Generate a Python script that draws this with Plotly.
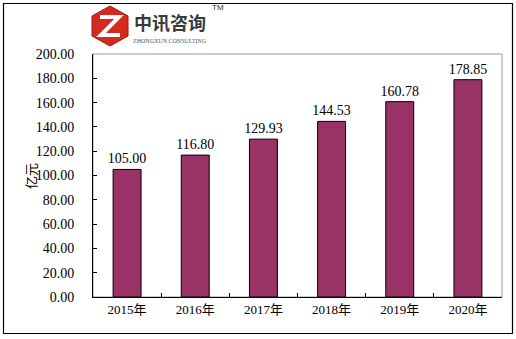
import plotly.graph_objects as go

years = ["2015年", "2016年", "2017年", "2018年", "2019年", "2020年"]
values = [105.00, 116.80, 129.93, 144.53, 160.78, 178.85]
y_ticks = [0, 20, 40, 60, 80, 100, 120, 140, 160, 180, 200]
y_title = "亿元"

W, H = 516, 339
L, R, T, B = 93, 502, 54, 297


def px(x):
    return (x - L) / (R - L)


def py(y):
    return (B - y) / (B - T)


font_num = "Liberation Serif, DejaVu Serif, serif"
font_cjk = "Noto Sans CJK SC, sans-serif"

fig = go.Figure()
fig.add_trace(go.Bar(
    x=years, y=values,
    marker=dict(color="#993366", line=dict(color="#000000", width=1)),
    width=0.41,
    text=[f"{v:.2f}" for v in values],
    textposition="outside",
    constraintext="none",
    textfont=dict(family=font_num, size=14, color="#000000"),
    cliponaxis=False,
))

shapes = []
# outer border
shapes.append(dict(type="rect", xref="paper", yref="paper",
                   x0=px(3.5), x1=px(512.5), y0=py(333.5), y1=py(3.5),
                   line=dict(color="#000000", width=1.2), layer="below"))
# plot frame (gray top/right)
shapes.append(dict(type="rect", xref="paper", yref="paper",
                   x0=0, x1=1, y0=0, y1=1,
                   line=dict(color="#9a9a9a", width=1), layer="below"))

# logo icon (red hexagon with white Z)
hexpts = [(110, 6), (128, 16), (128, 36), (110, 46), (92, 36), (92, 16)]
path = "M " + " L ".join(f"{px(a)},{py(b)}" for a, b in hexpts) + " Z"
shapes.append(dict(type="path", xref="paper", yref="paper", path=path,
                   fillcolor="#d42a1e", line=dict(color="#a01810", width=1)))
zpts = [(100, 17), (119, 17), (101, 35), (120, 35)]
zpath = "M " + " L ".join(f"{px(a)},{py(b)}" for a, b in zpts)
shapes.append(dict(type="path", xref="paper", yref="paper", path=zpath,
                   line=dict(color="#ffffff", width=4)))

annotations = [
    dict(text="<b>中讯咨询</b>", xref="paper", yref="paper", x=px(170), y=py(22),
         showarrow=False, font=dict(family=font_cjk, size=18, color="#3a3a3a"),
         xanchor="center", yanchor="middle"),
    dict(text="ZHONGXUN CONSULTING", xref="paper", yref="paper", x=px(170), y=py(41),
         showarrow=False, font=dict(family=font_num, size=6, color="#555555"),
         xanchor="center", yanchor="middle"),
    dict(text="TM", xref="paper", yref="paper", x=px(218), y=py(7),
         showarrow=False, font=dict(family="Liberation Sans, sans-serif", size=8, color="#333333"),
         xanchor="center", yanchor="middle"),
    dict(text=y_title, xref="paper", yref="paper", x=px(30), y=py(176),
         showarrow=False, textangle=-90,
         font=dict(family=font_cjk, size=13, color="#000000"),
         xanchor="center", yanchor="middle"),
]

fig.update_layout(
    width=W, height=H,
    margin=dict(l=L, r=W - R, t=T, b=H - B, pad=0),
    paper_bgcolor="#ffffff", plot_bgcolor="#ffffff",
    showlegend=False,
    bargap=0.59,
    shapes=shapes,
    annotations=annotations,
    xaxis=dict(
        type="category",
        showline=True, linecolor="#000000", linewidth=1,
        ticks="inside", ticklen=4, tickcolor="#000000",
        tickson="boundaries",
        tickfont=dict(family=font_num + ", " + font_cjk, size=13, color="#000000"),
        showgrid=False, zeroline=False,
    ),
    yaxis=dict(
        range=[0, 200],
        tickvals=y_ticks,
        ticktext=[f"{v:.2f}" for v in y_ticks],
        showline=True, linecolor="#000000", linewidth=1,
        ticks="inside", ticklen=4, tickcolor="#000000",
        tickfont=dict(family=font_num, size=14, color="#000000"),
        ticklabelstandoff=15,
        showgrid=False, zeroline=False,
    ),
)

fig.write_html("out.html")
